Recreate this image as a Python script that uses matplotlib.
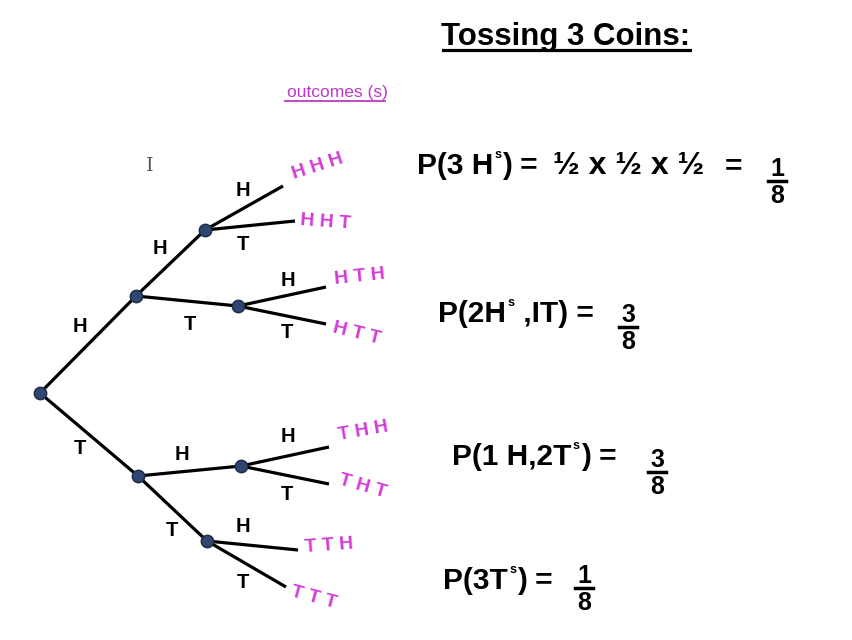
# tree diagram for tossing 3 coins
import matplotlib.pyplot as plt

plt.rcParams['font.family'] = ['Liberation Sans', 'DejaVu Sans']

# tree nodes (pixel coords of the original slide)
node_names = ['root', 'H', 'T', 'HH', 'HT', 'TH', 'TT']
node_x = [40, 136, 138, 205, 238, 241, 207]
node_y = [393, 296, 476, 230, 306, 466, 541]

# leaves (outcomes)
leaf_names = ['HHH', 'HHT', 'HTH', 'HTT', 'THH', 'THT', 'TTH', 'TTT']
leaf_parent = ['HH', 'HH', 'HT', 'HT', 'TH', 'TH', 'TT', 'TT']
leaf_x = [283, 295, 326, 326, 329, 329, 298, 286]
leaf_y = [186, 221, 287, 324, 447, 484, 550, 587]

# outcome labels
outcome_x = [318, 326, 360, 357, 363, 363, 329, 314]
outcome_y = [167, 222, 277, 334, 431, 486, 546, 598]
outcome_rot = [18, -4, 6, -14, 10, -16, 4, -15]

# branch labels
branch_text = ['H', 'T', 'H', 'T', 'H', 'T', 'H', 'T', 'H', 'T', 'H', 'T', 'H', 'T']
branch_x = [80, 80, 160, 190, 182, 172, 243, 243, 288, 287, 288, 287, 243, 243]
branch_y = [326, 449, 248, 324, 455, 530, 191, 245, 281, 332, 437, 494, 527, 583]

# probability statements: text before the small "s", text after it
eq_before = ['P(3 H', 'P(2H', 'P(1 H,2T', 'P(3T']
eq_after = [') =', ' ,IT) =', ') =', ') =']
eq_x = [417, 438, 452, 443]
eq_y = [174, 322, 465, 589]
product_text = ['½ x ½ x ½', '=']
product_x = [553, 725]
frac_num = ['1', '3', '3', '1']
frac_den = ['8', '8', '8', '8']
frac_x = [777, 628, 657, 584]
frac_y = [181, 327, 472, 588]

pos = dict(zip(node_names, zip(node_x, node_y)))
parent = {'H': 'root', 'T': 'root', 'HH': 'H', 'HT': 'H', 'TH': 'T', 'TT': 'T'}

fig = plt.figure(figsize=(8.53, 6.4), dpi=100)
ax = fig.add_axes([0, 0, 1, 1])
ax.set_xlim(0, 853)
ax.set_ylim(640, 0)
ax.axis('off')

line_kw = dict(color='black', lw=2.3, solid_capstyle='butt', zorder=1)
for child, par in parent.items():
    ax.plot([pos[par][0], pos[child][0]], [pos[par][1], pos[child][1]], **line_kw)
for i in range(len(leaf_names)):
    p = pos[leaf_parent[i]]
    ax.plot([p[0], leaf_x[i]], [p[1], leaf_y[i]], **line_kw)

ax.scatter(node_x, node_y, s=80, color='#2f4672', edgecolors='#1c2a45',
           linewidths=1, zorder=3)

for t, x, y in zip(branch_text, branch_x, branch_y):
    ax.text(x, y, t, fontsize=14.5, fontweight='bold', ha='center', va='center')

magenta = '#d23cd6'
for name, x, y, r in zip(leaf_names, outcome_x, outcome_y, outcome_rot):
    ax.text(x, y, ' '.join(name), fontsize=14, fontweight='bold', color=magenta,
            ha='center', va='center', rotation=r, rotation_mode='anchor')

# title
ax.text(566, 45, 'Tossing 3 Coins:', fontsize=22.5, fontweight='bold',
        ha='center', va='baseline')
ax.plot([443, 690], [49.5, 49.5], color='black', lw=2.3)

ax.text(337, 97, 'outcomes (s)', fontsize=12.5, color='#bb3ac8',
        ha='center', va='baseline')
ax.plot([285, 385], [101, 101], color='#bb3ac8', lw=1.3)

# text cursor
ax.text(150, 166, 'I', fontsize=14, family='DejaVu Serif', color='#555555',
        ha='center', va='center')

fs = 21.5
for b, a, x, y in zip(eq_before, eq_after, eq_x, eq_y):
    t1 = ax.text(x, y, b, fontsize=fs, fontweight='bold', ha='left', va='baseline')
    s = ax.annotate('s', xy=(1, 1), xycoords=t1, xytext=(1, 2),
                    textcoords='offset points', fontsize=9, fontweight='bold',
                    ha='left', va='top')
    ax.annotate(a, xy=(1, 0), xycoords=(s, t1), xytext=(0.5, 0),
                textcoords='offset points', fontsize=fs, fontweight='bold',
                ha='left', va='bottom')

ax.text(product_x[0], eq_y[0], product_text[0], fontsize=23, fontweight='bold',
        ha='left', va='baseline')
ax.text(product_x[1], eq_y[0], product_text[1], fontsize=fs, fontweight='bold',
        ha='left', va='baseline')

for n, d, x, y in zip(frac_num, frac_den, frac_x, frac_y):
    ax.text(x, y - 5, n, fontsize=18, fontweight='bold', ha='center', va='baseline')
    ax.plot([x - 9, x + 9], [y, y], color='black', lw=2.5)
    ax.text(x, y + 22, d, fontsize=18, fontweight='bold', ha='center', va='baseline')

fig.savefig('out.png', dpi=100)
